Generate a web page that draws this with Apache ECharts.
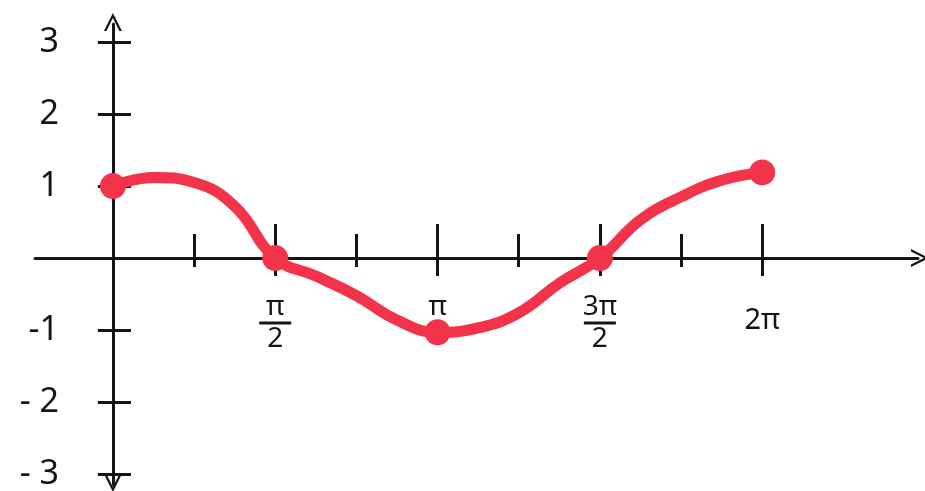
<!DOCTYPE html>
<html>
<head>
<meta charset="utf-8">
<title>y = cos x</title>
<script src="https://cdn.jsdelivr.net/npm/echarts@6/dist/echarts.min.js"></script>
<style>
  html, body { margin: 0; padding: 0; background: #ffffff; }
  #chart { width: 925px; height: 491px; }
</style>
</head>
<body>
<div id="chart"></div>
<script>
// x values are in multiples of π
const curveX = [0, 0.125, 0.25, 0.375, 0.5, 0.625, 0.75, 0.875, 1, 1.125, 1.25, 1.375, 1.5, 1.625, 1.75, 1.875, 2];
const curveY = [1.0, 1.12, 1.05, 0.72, 0.0, -0.25, -0.52, -0.86, -1.03, -0.97, -0.76, -0.35, 0.0, 0.53, 0.85, 1.08, 1.19];

// highlighted points at 0, π/2, π, 3π/2, 2π
const dotX = [0, 0.5, 1, 1.5, 2];
const dotY = [1.0, 0.0, -1.03, 0.0, 1.19];

const majorTicks = [0.5, 1, 1.5, 2];
const quarterTicks = [0.25, 0.75, 1.25, 1.75];
const yTicks = [-3, -2, -1, 1, 2, 3];
const yTickLabels = { '-3': '- 3', '-2': '- 2', '-1': '-1', '1': '1', '2': '2', '3': '3' };
const xTickLabels = {
  '0.5': '{n|π}\n{bar|}\n{d|2}',
  '1': '{n|π}',
  '1.5': '{n|3π}\n{bar|}\n{d|2}',
  '2': '{w|2π}'
};

const INK = '#151515';
const RED = '#f3334a';
const FONT = 'Noto Sans';

const chart = echarts.init(document.getElementById('chart'), null, { renderer: 'canvas' });

// open chevron used as arrowheads on the axes
const chevron = 'path://M0,10 L5,0 L10,10 L8.6,10 L5,2.8 L1.4,10 Z';

const X_MIN = -0.24, X_MAX = 2.48;
const Y_MIN = -3.15, Y_MAX = 3.25;

// grid 0: plot area with both axis lines through the origin
// grid 1: same vertical scale, left edge on x = 0 (carries the y labels)
// grid 2: same horizontal scale, bottom edge on y = 0 (carries the x labels)
const G = { left: 35, right: 7, top: 24, bottom: 6 };
const xZeroPx = G.left + (0 - X_MIN) / (X_MAX - X_MIN) * (925 - G.left - G.right);
const yZeroPx = G.top + (Y_MAX - 0) / (Y_MAX - Y_MIN) * (491 - G.top - G.bottom);

function xAxisBase(extra) {
  return Object.assign({
    type: 'value', min: X_MIN, max: X_MAX, position: 'bottom', gridIndex: 0,
    splitLine: { show: false },
    axisLine: { show: false, onZero: true, onZeroAxisIndex: 0 },
    axisLabel: { show: false },
    axisTick: { show: false }
  }, extra);
}
function yAxisBase(extra) {
  return Object.assign({
    type: 'value', min: Y_MIN, max: Y_MAX, position: 'left', gridIndex: 0,
    splitLine: { show: false },
    axisLine: { show: false, onZero: true, onZeroAxisIndex: 0 },
    axisLabel: { show: false },
    axisTick: { show: false }
  }, extra);
}
const hidden = { show: false };

const option = {
  backgroundColor: '#ffffff',
  animation: false,
  grid: [
    Object.assign({ outerBoundsMode: 'none', containLabel: false }, G),
    { left: xZeroPx, right: G.right, top: G.top, bottom: G.bottom, outerBoundsMode: 'none', containLabel: false },
    { left: G.left, right: G.right, top: G.top, bottom: 491 - yZeroPx, outerBoundsMode: 'none', containLabel: false }
  ],
  xAxis: [
    xAxisBase({
      axisLine: {
        show: true, onZero: true, onZeroAxisIndex: 0,
        lineStyle: { color: INK, width: 3 },
        symbol: ['none', chevron], symbolSize: [26, 18], symbolOffset: [0, 2]
      },
      axisTick: {
        show: true, inside: false, length: 18, customValues: majorTicks,
        lineStyle: { color: INK, width: 3 }
      }
    }),
    xAxisBase({
      axisTick: {
        show: true, inside: true, length: 34, customValues: majorTicks,
        lineStyle: { color: INK, width: 3 }
      }
    }),
    xAxisBase({
      axisTick: {
        show: true, inside: false, length: 9, customValues: quarterTicks,
        lineStyle: { color: INK, width: 3 }
      }
    }),
    xAxisBase({
      axisTick: {
        show: true, inside: true, length: 24, customValues: quarterTicks,
        lineStyle: { color: INK, width: 3 }
      }
    }),
    // grid 1: placeholder x axis
    { type: 'value', gridIndex: 1, min: 0, max: X_MAX, show: false },
    // grid 2: x tick labels
    {
      type: 'value', gridIndex: 2, min: X_MIN, max: X_MAX, position: 'bottom',
      splitLine: hidden, axisLine: { show: false, onZero: false }, axisTick: hidden,
      axisLabel: {
        show: true, margin: 36, customValues: majorTicks, color: INK,
        fontFamily: FONT,
        formatter: v => xTickLabels[String(v)] || '',
        rich: {
          n: { fontSize: 28, fontFamily: FONT, color: INK, lineHeight: 26, align: 'center' },
          bar: { width: 32, height: 3, backgroundColor: INK, lineHeight: 6 },
          d: { fontSize: 28, fontFamily: FONT, color: INK, lineHeight: 26, align: 'center' },
          w: { fontSize: 29, fontFamily: FONT, color: INK, lineHeight: 28, padding: [26, 0, 0, 0] }
        }
      }
    }
  ],
  yAxis: [
    yAxisBase({
      axisLine: {
        show: true, onZero: true, onZeroAxisIndex: 0,
        lineStyle: { color: INK, width: 3 },
        symbol: [chevron, chevron], symbolSize: [26, 18], symbolOffset: [2, 2]
      },
      axisTick: {
        show: true, inside: false, length: 15, customValues: yTicks,
        lineStyle: { color: INK, width: 3 }
      }
    }),
    yAxisBase({
      axisTick: {
        show: true, inside: true, length: 18, customValues: yTicks,
        lineStyle: { color: INK, width: 3 }
      }
    }),
    // grid 1: y tick labels
    {
      type: 'value', gridIndex: 1, min: Y_MIN, max: Y_MAX, position: 'left',
      splitLine: hidden, axisLine: { show: false, onZero: false }, axisTick: hidden,
      axisLabel: {
        show: true, margin: 54, customValues: yTicks, color: INK,
        fontFamily: FONT, fontSize: 34,
        formatter: v => yTickLabels[String(v)] || ''
      }
    },
    // grid 2: placeholder y axis
    { type: 'value', gridIndex: 2, min: 0, max: Y_MAX, show: false }
  ],
  series: [
    {
      name: 'cos x',
      type: 'line',
      xAxisIndex: 0, yAxisIndex: 0,
      smooth: 0.45,
      showSymbol: false,
      lineStyle: { color: RED, width: 11, cap: 'round', join: 'round' },
      data: curveX.map((x, i) => [x, curveY[i]]),
      z: 5
    },
    {
      name: 'points',
      type: 'scatter',
      xAxisIndex: 0, yAxisIndex: 0,
      symbolSize: 26,
      itemStyle: { color: RED, opacity: 1 },
      data: dotX.map((x, i) => [x, dotY[i]]),
      z: 6
    }
  ]
};

chart.setOption(option);
</script>
</body>
</html>
